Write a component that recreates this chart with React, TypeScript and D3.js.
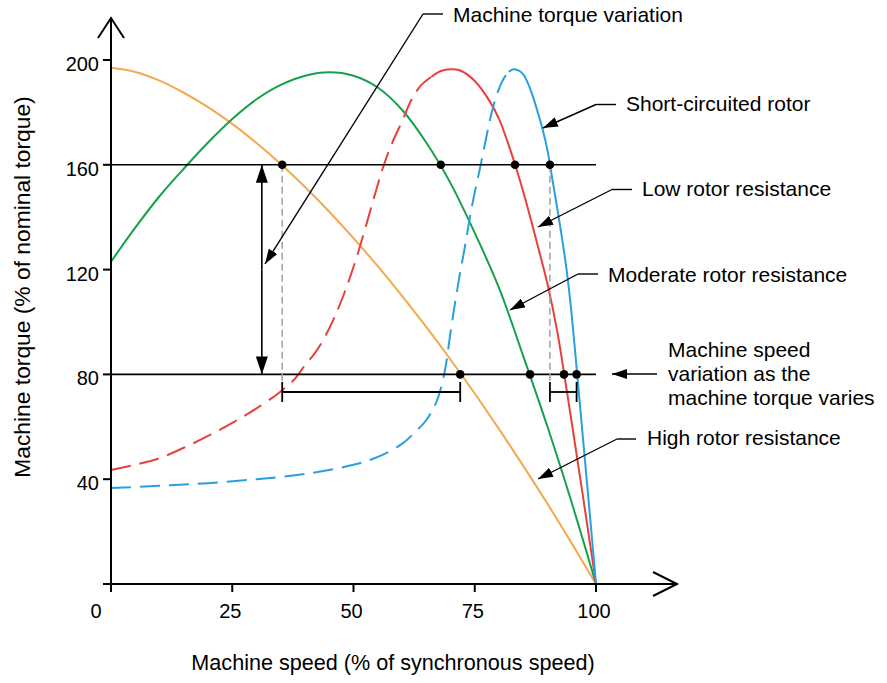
import * as d3 from "d3";

// torque-speed curves, speed in % of synchronous speed, torque in % of nominal
const highSpeed = [0, 5, 10, 15, 20, 25, 30, 35, 40, 45, 50, 55, 60, 65, 70, 75, 80, 85, 90, 95, 100];
const highTorque = [197, 195.4, 192.1, 187.5, 182, 175.6, 168.3, 160.3, 151.5, 142.1, 132, 121.3, 110, 98.1, 85.7, 72.7, 59.1, 45.1, 30.6, 15.5, 0];

const modSpeed = [0, 5, 10, 15, 20, 25, 30, 35, 40, 45, 50, 55, 60, 65, 70, 75, 80, 85, 90, 95, 100];
const modTorque = [123, 136, 148, 158.5, 168.5, 177.5, 185, 190.5, 194, 195.3, 194, 189.5, 181, 168.5, 153, 134, 113, 87, 60, 31, 0];

const lowDashSpeed = [0, 5, 10, 15, 20, 25, 30, 35, 38, 40, 42, 44, 46, 48, 50, 52, 54, 56, 58, 60, 62, 64, 66];
const lowDashTorque = [43.5, 45.5, 48, 52, 56.5, 61.5, 67, 73.5, 78.5, 83.5, 88, 94, 101.5, 110.5, 121, 133, 146, 158.5, 168.5, 176.5, 185, 190.5, 193.5];
const lowSpeed = [66, 68, 70, 72, 75, 78, 80, 82, 84, 86, 88, 90, 92, 94, 96, 98, 100];
const lowTorque = [193.5, 195.8, 196.5, 196, 192, 184.5, 177.5, 167.5, 156, 143, 129, 114.5, 96.5, 73.5, 49.5, 25, 0];

const shortDashSpeed = [0, 10, 20, 30, 40, 50, 55, 60, 63, 65, 66, 67, 68, 69, 70, 71, 72, 73, 74, 75, 76, 77, 78, 79, 80, 81, 82];
const shortDashTorque = [36.6, 37.5, 38.5, 40, 42, 45.5, 48.5, 53.5, 58.5, 62.5, 65.5, 69, 74.5, 83, 96, 108, 119, 129, 140, 149.5, 158, 167, 176, 183.5, 189, 193, 195.5];
const shortSpeed = [82, 83, 84, 85, 86, 87, 88, 89, 90, 91, 92, 93, 94, 95, 96, 97, 98, 99, 100];
const shortTorque = [195.5, 196.5, 196, 194.5, 191, 186, 180, 173.5, 165.5, 154.5, 143.5, 132, 119, 102.5, 82.5, 62, 41.5, 21, 0];

// operating points
const levelTorque = [160, 80];
const dots160 = [35.3, 68, 83.3, 90.5];
const dots80 = [72, 86.4, 93.4, 96];
const spanHigh = [35.3, 72];
const spanShort = [90.5, 96];
const torqueArrowSpeed = 31.1;

const xTicks = [0, 25, 50, 75, 100];
const yTicks = [0, 40, 80, 120, 160, 200];
const yTickLabels = ["", "40", "80", "120", "160", "200"];

const ORANGE = "#f5a850";
const GREEN = "#17a04c";
const RED = "#e8403c";
const BLUE = "#2a9fdb";
const FONT = "'Liberation Sans', Arial, sans-serif";

const callouts = [
  { text: "Short-circuited rotor", tx: 626, ty: 111, elbow: [596, 104.5], hEnd: 616, tip: [543, 128] },
  { text: "Low rotor resistance", tx: 642, ty: 196, elbow: [612, 189.5], hEnd: 632, tip: [538, 227] },
  { text: "Moderate rotor resistance", tx: 608, ty: 282, elbow: [578, 274], hEnd: 598, tip: [510, 310] },
  { text: "High rotor resistance", tx: 647, ty: 445, elbow: [617, 439], hEnd: 636, tip: [538, 479] },
  { text: "Machine torque variation", tx: 453, ty: 22, elbow: [423, 14], hEnd: 443, tip: [265, 264] },
];

export default function App() {
  const width = 887;
  const height = 683;

  const x = d3.scaleLinear().domain([0, 100]).range([111, 596]);
  const y = d3.scaleLinear().domain([0, 200]).range([584, 60]);

  const line = d3
    .line<[number, number]>()
    .x((d) => x(d[0]))
    .y((d) => y(d[1]))
    .curve(d3.curveCatmullRom.alpha(0.5));

  const path = (s: number[], t: number[]) => line(s.map((v, i) => [v, t[i]]) as [number, number][]) || "";

  const x0 = x(0);
  const yBase = y(0);
  const bracketY = 392;

  return (
    <svg
      width={width}
      height={height}
      style={{ position: "absolute", left: 0, top: 0, background: "#fff" }}
      fontFamily={FONT}
    >
      <defs>
        <marker id="head" viewBox="0 0 15 10" refX="15" refY="5" markerWidth="15" markerHeight="10" markerUnits="userSpaceOnUse" orient="auto">
          <path d="M0,0 L15,5 L0,10 z" fill="#000" />
        </marker>
        <marker id="bighead" viewBox="0 0 18 12" refX="18" refY="6" markerWidth="18" markerHeight="12" markerUnits="userSpaceOnUse" orient="auto">
          <path d="M0,0 L18,6 L0,12 z" fill="#000" />
        </marker>
      </defs>

      {/* curves */}
      <path d={path(highSpeed, highTorque)} fill="none" stroke={ORANGE} strokeWidth={2} />
      <path d={path(modSpeed, modTorque)} fill="none" stroke={GREEN} strokeWidth={2} />
      <path d={path(lowDashSpeed, lowDashTorque)} fill="none" stroke={RED} strokeWidth={2} strokeDasharray="20 9" />
      <path d={path(lowSpeed, lowTorque)} fill="none" stroke={RED} strokeWidth={2} />
      <path d={path(shortDashSpeed, shortDashTorque)} fill="none" stroke={BLUE} strokeWidth={2} strokeDasharray="20 9" />
      <path d={path(shortSpeed, shortTorque)} fill="none" stroke={BLUE} strokeWidth={2} />

      {/* torque levels */}
      {levelTorque.map((t) => (
        <line key={t} x1={x(0)} x2={x(100)} y1={y(t)} y2={y(t)} stroke="#000" strokeWidth={1.6} />
      ))}

      {/* grey drop lines */}
      {[spanHigh[0], spanShort[0]].map((s) => (
        <line key={s} x1={x(s)} x2={x(s)} y1={y(160)} y2={bracketY - 10} stroke="#a6a6a6" strokeWidth={1.6} strokeDasharray="7 4" />
      ))}

      {/* speed spans */}
      {[spanHigh, spanShort].map((sp, i) => (
        <g key={i} stroke="#000" strokeWidth={1.8}>
          <line x1={x(sp[0])} x2={x(sp[1])} y1={bracketY} y2={bracketY} />
          <line x1={x(sp[0])} x2={x(sp[0])} y1={bracketY - 10} y2={bracketY + 10} />
          <line x1={x(sp[1])} x2={x(sp[1])} y1={bracketY - 10} y2={bracketY + 10} />
        </g>
      ))}

      {/* dots */}
      {dots160.map((s) => (
        <circle key={"a" + s} cx={x(s)} cy={y(160)} r={4.3} fill="#000" />
      ))}
      {dots80.map((s) => (
        <circle key={"b" + s} cx={x(s)} cy={y(80)} r={4.3} fill="#000" />
      ))}

      {/* torque variation double arrow */}
      <line
        x1={x(torqueArrowSpeed)}
        x2={x(torqueArrowSpeed)}
        y1={(y(160) + y(80)) / 2}
        y2={y(160)}
        stroke="#000"
        strokeWidth={1.6}
        markerEnd="url(#bighead)"
      />
      <line
        x1={x(torqueArrowSpeed)}
        x2={x(torqueArrowSpeed)}
        y1={(y(160) + y(80)) / 2}
        y2={y(80)}
        stroke="#000"
        strokeWidth={1.6}
        markerEnd="url(#bighead)"
      />

      {/* axes */}
      <g stroke="#000" strokeWidth={2} fill="none">
        <line x1={x0} x2={x0} y1={18} y2={yBase + 8} />
        <path d={`M${x0 - 13},38 L${x0},18 L${x0 + 13},38`} />
        <line x1={x0 - 8} x2={677} y1={yBase} y2={yBase} />
        <path d={`M653,${yBase - 12} L677,${yBase} L653,${yBase + 12}`} />
        {yTicks.map((t) => (
          <line key={t} x1={x0 - 8} x2={x0} y1={y(t)} y2={y(t)} />
        ))}
        {xTicks.slice(1).map((t) => (
          <line key={t} x1={x(t)} x2={x(t)} y1={yBase} y2={yBase + 8} />
        ))}
      </g>
      <g fontSize={20} fill="#000">
        {yTicks.map((t, i) => (
          <text key={t} x={x0 - 12} y={y(t) + 11} textAnchor="end">
            {yTickLabels[i]}
          </text>
        ))}
        {xTicks.map((t) => (
          <text key={t} x={t === 0 ? 96 : x(t) - 2} y={618} textAnchor="middle">
            {t}
          </text>
        ))}
      </g>
      <text x={393} y={670} fontSize={21.6} textAnchor="middle">
        Machine speed (% of synchronous speed)
      </text>
      <text transform="translate(30,287) rotate(-90)" fontSize={22.8} textAnchor="middle">
        Machine torque (% of nominal torque)
      </text>

      {/* callouts */}
      {callouts.map((c) => (
        <g key={c.text}>
          <line x1={c.elbow[0]} x2={c.hEnd} y1={c.elbow[1]} y2={c.elbow[1]} stroke="#000" strokeWidth={1.4} />
          <line x1={c.elbow[0]} y1={c.elbow[1]} x2={c.tip[0]} y2={c.tip[1]} stroke="#000" strokeWidth={1.4} markerEnd="url(#head)" />
          <text x={c.tx} y={c.ty} fontSize={21}>
            {c.text}
          </text>
        </g>
      ))}

      {/* speed variation note */}
      <line x1={657} x2={612} y1={374} y2={374} stroke="#000" strokeWidth={1.4} markerEnd="url(#head)" />
      <text fontSize={21}>
        <tspan x={668} y={357}>Machine speed</tspan>
        <tspan x={668} y={381}>variation as the</tspan>
        <tspan x={668} y={405}>machine torque varies</tspan>
      </text>
    </svg>
  );
}
